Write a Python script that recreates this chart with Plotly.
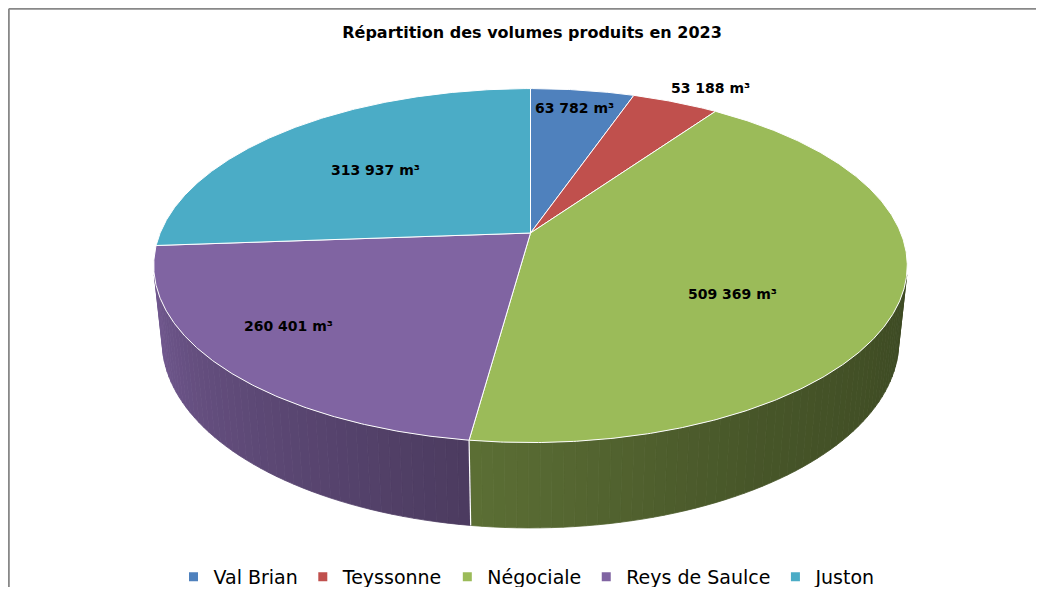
import math
import plotly.graph_objects as go

# ---------------- data ----------------
categories = ["Val Brian", "Teyssonne", "Négociale", "Reys de Saulce", "Juston"]
volumes = [63782, 53188, 509369, 260401, 313937]
unit = "m³"
title_text = "Répartition des volumes produits en 2023"

# ---------------- styles ----------------
colors = ["#4F81BD", "#C0504D", "#9BBB59", "#8064A2", "#4BACC6"]
# label placement inside each slice: (fraction of slice angle, radius fraction)
label_place = [(0.48, 0.856), (0.67, 1.16), (0.577, 0.613), (0.544, 0.772), (0.483, 0.597)]

WIN_W, WIN_H = 1044, 595
OFF = 8  # default page body margin
FW, FH = WIN_W - 2 * OFF, WIN_H - 2 * OFF

# 3D camera (perspective) parameters in screen-pixel space
CX, CY = 530.5, 233.0
ELEV = math.radians(27.5)
DIST = 4.82
FOC = 1785.0
THICK = 0.232
ce, se = math.cos(ELEV), math.sin(ELEV)


def proj(X, Y, Z):
    d = DIST - (Y * ce + Z * se)
    v = Z * ce - Y * se
    return CX + FOC * X / d, CY - FOC * v / d


def circ(theta_deg, r=1.0, z=0.0):
    t = math.radians(theta_deg)
    return proj(r * math.sin(t), -r * math.cos(t), z)


def arc(a, b, z=0.0, step=0.5):
    n = max(2, int(abs(b - a) / step) + 1)
    return [circ(a + (b - a) * i / (n - 1), 1.0, z) for i in range(n)]


def shade(hex_color, f):
    h = hex_color.lstrip("#")
    r, g, b = int(h[0:2], 16), int(h[2:4], 16), int(h[4:6], 16)
    return "rgb(%d,%d,%d)" % (round(r * f), round(g * f), round(b * f))


# lighting of the side wall as a function of angle (deg)
light_pts = [(103.5, 0.39), (150.0, 0.46), (187.7, 0.59), (256.5, 0.88)]


def light(t):
    if t <= light_pts[0][0]:
        return light_pts[0][1]
    for (t0, f0), (t1, f1) in zip(light_pts, light_pts[1:]):
        if t <= t1:
            return f0 + (f1 - f0) * (t - t0) / (t1 - t0)
    return light_pts[-1][1]


def fmt(v):
    return f"{v:,}".replace(",", " ") + " " + unit


total = float(sum(volumes))
angles = []
acc = 0.0
for v in volumes:
    a0 = acc
    acc += v / total * 360.0
    angles.append((a0, acc))

# visible wall range
ys = 1.0 / (DIST * ce)
vis_a = math.degrees(math.acos(-ys))
vis_b = 360.0 - vis_a

fig = go.Figure()

# ---- side walls (shaded strips) ----
for i, (a0, a1) in enumerate(angles):
    lo, hi = max(a0, vis_a), min(a1, vis_b)
    if hi <= lo:
        continue
    nstrip = max(1, int((hi - lo) / 1.5))
    for k in range(nstrip):
        sa = lo + (hi - lo) * k / nstrip
        sb = lo + (hi - lo) * (k + 1) / nstrip
        top = arc(sa, sb, 0.0, 0.5)
        bot = arc(sa, sb, -THICK, 0.5)[::-1]
        pts = top + bot + [top[0]]
        col = shade(colors[i], light((sa + sb) / 2))
        fig.add_trace(go.Scatter(
            x=[p[0] for p in pts], y=[p[1] for p in pts],
            mode="lines", fill="toself", fillcolor=col,
            line=dict(color=col, width=0.8),
            hoverinfo="skip", showlegend=False))

# white edges on wall at slice boundaries
for a0, a1 in angles:
    if vis_a < a0 < vis_b:
        p0 = circ(a0, 1.0, 0.0)
        p1 = circ(a0, 1.0, -THICK)
        fig.add_trace(go.Scatter(
            x=[p0[0], p1[0]], y=[p0[1], p1[1]], mode="lines",
            line=dict(color="white", width=1.2),
            hoverinfo="skip", showlegend=False))

# ---- top faces ----
c0 = proj(0, 0, 0)
for i, (a0, a1) in enumerate(angles):
    pts = [c0] + arc(a0, a1, 0.0, 0.4) + [c0]
    fig.add_trace(go.Scatter(
        x=[p[0] for p in pts], y=[p[1] for p in pts],
        mode="lines", fill="toself", fillcolor=colors[i],
        line=dict(color="white", width=1),
        name=categories[i],
        hovertemplate="%s<br>%s<extra></extra>" % (categories[i], fmt(volumes[i])),
        showlegend=False))

# ---- legend entries ----
for i, name in enumerate(categories):
    fig.add_trace(go.Scatter(
        x=[None], y=[None], mode="markers", name=name,
        marker=dict(symbol="square", size=9, color=colors[i]),
        showlegend=True))

# ---- data labels ----
for i, (a0, a1) in enumerate(angles):
    t, r = label_place[i]
    px, py = circ(a0 + (a1 - a0) * t, r, 0.0)
    fig.add_annotation(
        x=px, y=py, xref="x", yref="y", showarrow=False,
        text=fmt(volumes[i]),
        font=dict(family="DejaVu Sans", size=14, color="black", weight="bold"))

# ---- chart border (top and left edges; the rest is cropped) ----
border = dict(color="#888888", width=2)
fig.add_shape(type="line", xref="x", yref="y", x0=OFF + 0.8, y0=OFF + 0.8,
              x1=WIN_W + 40, y1=OFF + 0.8, line=border, layer="below")
fig.add_shape(type="line", xref="x", yref="y", x0=OFF + 0.8, y0=OFF + 0.8,
              x1=OFF + 0.8, y1=WIN_H + 40, line=border, layer="below")


def px_to_paper_x(x):
    return (x - OFF) / FW


def px_to_paper_y(y):
    return 1 - (y - OFF) / FH


fig.update_layout(
    width=FW, height=FH,
    margin=dict(l=0, r=0, t=0, b=0, autoexpand=False),
    paper_bgcolor="white", plot_bgcolor="white",
    title=dict(text=title_text, x=px_to_paper_x(532), xanchor="center",
               y=px_to_paper_y(32), yanchor="middle",
               font=dict(family="DejaVu Sans", size=16, color="black", weight="bold")),
    xaxis=dict(range=[OFF, OFF + FW], visible=False, fixedrange=True),
    yaxis=dict(range=[OFF + FH, OFF], visible=False, fixedrange=True),
    legend=dict(orientation="h", x=px_to_paper_x(527), xanchor="center",
                y=px_to_paper_y(577), yanchor="middle",
                font=dict(family="DejaVu Sans", size=19, color="black"),
                bgcolor="rgba(0,0,0,0)", itemwidth=30, tracegroupgap=0),
    showlegend=True,
)

fig.write_html("out.html")
